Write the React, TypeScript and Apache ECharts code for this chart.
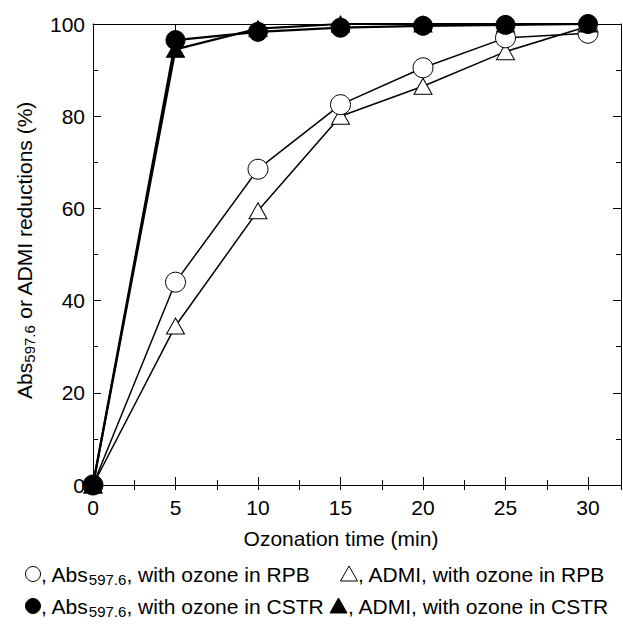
import React, { useEffect, useRef } from "react";
import * as echarts from "echarts";

const times = [0, 5, 10, 15, 20, 25, 30];
const absRPB = [0, 44, 68.5, 82.5, 90.5, 97, 98];
const admiRPB = [0, 34.5, 59.5, 80, 86.5, 94, 99.5];
const absCSTR = [0, 96.5, 98.3, 99.2, 99.6, 99.8, 100];
const admiCSTR = [0, 94.5, 99, 100, 100, 100, 100];
const xTicksMajor = 5;
const xTicksMinor = 2.5;
const yTicksMajor = 20;
const xTitle = "Ozonation time (min)";
const yTitle = "Abs{sub|597.6} or ADMI reductions (%)";
const legendTexts = [
  ", Abs{sub|597.6}, with ozone in RPB",
  ", ADMI, with ozone in RPB",
  ", Abs{sub|597.6}, with ozone in CSTR",
  ", ADMI, with ozone in CSTR",
];

const FONT = "'Liberation Sans', Arial, Helvetica, sans-serif";
const FS = 21;

export default function App() {
  const ref = useRef<HTMLDivElement>(null);
  useEffect(() => {
    document.body.style.margin = "0";
    const chart = echarts.init(ref.current!, null, { renderer: "svg" });
    const pts = (ys: number[]) => times.map((t, i) => [t, ys[i]]);
    const xMax = 32;
    const baseX = {
      type: "value" as const,
      min: 0,
      max: xMax,
      splitLine: { show: false },
      axisLine: { show: true, onZero: false, lineStyle: { color: "#000", width: 1 } },
    };
    const baseY = {
      type: "value" as const,
      min: 0,
      max: 100,
      interval: yTicksMajor,
      splitLine: { show: false },
      axisLine: { show: true, onZero: false, lineStyle: { color: "#000", width: 1 } },
      axisTick: { show: true, inside: true, length: 8, lineStyle: { color: "#000", width: 1 } },
      minorTick: { show: true, splitNumber: 2, length: 5, lineStyle: { color: "#000", width: 1 } },
    };
    const tickFmt = (v: number) => (Math.abs(v % 5) < 1e-6 ? String(v) : "");
    const sub = { fontSize: 15, fontFamily: FONT, fill: "#000", color: "#000", padding: [11, 0, 0, 0] };
    const r1 = 574;
    const r2 = 606;
    chart.setOption({
      animation: false,
      backgroundColor: "#fff",
      grid: { left: 93, right: 2, top: 24, bottom: 139 },
      xAxis: [
        {
          ...baseX,
          position: "bottom",
          interval: xTicksMajor,
          axisTick: { show: true, inside: true, length: 8, lineStyle: { color: "#000", width: 1 } },
          axisLabel: { show: true, formatter: tickFmt, color: "#000", fontSize: FS, fontFamily: FONT, margin: 12, showMaxLabel: false },
        },
        {
          ...baseX,
          position: "bottom",
          interval: xTicksMinor,
          axisLine: { show: false },
          axisTick: { show: true, inside: true, length: 5, lineStyle: { color: "#000", width: 1 } },
          axisLabel: { show: false },
        },
        {
          ...baseX,
          position: "top",
          interval: xTicksMajor,
          axisTick: { show: true, inside: true, length: 8, lineStyle: { color: "#000", width: 1 } },
          axisLabel: { show: false },
        },
        {
          ...baseX,
          position: "top",
          interval: xTicksMinor,
          axisLine: { show: false },
          axisTick: { show: true, inside: true, length: 5, lineStyle: { color: "#000", width: 1 } },
          axisLabel: { show: false },
        },
      ],
      yAxis: [
        {
          ...baseY,
          position: "left",
          axisLabel: { show: true, color: "#000", fontSize: FS, fontFamily: FONT, margin: 8 },
        },
        {
          ...baseY,
          position: "right",
          axisLabel: { show: false },
        },
      ],
      series: [
        {
          type: "line",
          data: pts(admiRPB),
          symbol: "triangle",
          symbolSize: [18, 16],
          clip: false,
          lineStyle: { color: "#000", width: 1.5 },
          itemStyle: { color: "#fff", borderColor: "#000", borderWidth: 1 },
          z: 2,
        },
        {
          type: "line",
          data: pts(absRPB),
          symbol: "circle",
          symbolSize: 20,
          clip: false,
          lineStyle: { color: "#000", width: 1.5 },
          itemStyle: { color: "#fff", borderColor: "#000", borderWidth: 1 },
          z: 3,
        },
        {
          type: "line",
          data: pts(admiCSTR),
          symbol: "triangle",
          symbolSize: [18, 16],
          clip: false,
          lineStyle: { color: "#000", width: 2.2 },
          itemStyle: { color: "#000", borderColor: "#000", borderWidth: 1 },
          z: 4,
        },
        {
          type: "line",
          data: pts(absCSTR),
          symbol: "circle",
          symbolSize: 19,
          clip: false,
          lineStyle: { color: "#000", width: 2.2 },
          itemStyle: { color: "#000", borderColor: "#000", borderWidth: 1 },
          z: 5,
        },
      ],
      graphic: [
        {
          type: "text",
          x: 341,
          y: 538,
          style: { text: xTitle, fill: "#000", fontSize: FS, fontFamily: FONT, align: "center", verticalAlign: "middle" },
        },
        {
          type: "text",
          x: 24,
          y: 250,
          rotation: Math.PI / 2,
          style: { text: yTitle, fill: "#000", fontSize: FS, fontFamily: FONT, align: "center", verticalAlign: "middle", rich: { sub } },
        },
        { type: "circle", shape: { cx: 33, cy: r1, r: 7.5 }, style: { fill: "#fff", stroke: "#000", lineWidth: 1 } },
        { type: "polygon", shape: { points: [[349, r1 - 8], [340.5, r1 + 7], [357.5, r1 + 7]] }, style: { fill: "#fff", stroke: "#000", lineWidth: 1 } },
        { type: "circle", shape: { cx: 33, cy: r2, r: 7.5 }, style: { fill: "#000", stroke: "#000", lineWidth: 1 } },
        { type: "polygon", shape: { points: [[338.5, r2 - 8], [330, r2 + 7], [347, r2 + 7]] }, style: { fill: "#000", stroke: "#000", lineWidth: 1 } },
        {
          type: "text",
          x: 41,
          y: r1,
          style: { text: legendTexts[0], fill: "#000", fontSize: FS, fontFamily: FONT, verticalAlign: "middle", rich: { sub } },
        },
        {
          type: "text",
          x: 358,
          y: r1,
          style: { text: legendTexts[1], fill: "#000", fontSize: FS, fontFamily: FONT, verticalAlign: "middle" },
        },
        {
          type: "text",
          x: 41,
          y: r2,
          style: { text: legendTexts[2], fill: "#000", fontSize: FS, fontFamily: FONT, verticalAlign: "middle", rich: { sub } },
        },
        {
          type: "text",
          x: 348,
          y: r2,
          style: { text: legendTexts[3], fill: "#000", fontSize: FS, fontFamily: FONT, verticalAlign: "middle" },
        },
      ],
    });
    return () => chart.dispose();
  }, []);
  return <div ref={ref} style={{ width: 623, height: 624, position: "absolute", left: 0, top: 0 }} />;
}
